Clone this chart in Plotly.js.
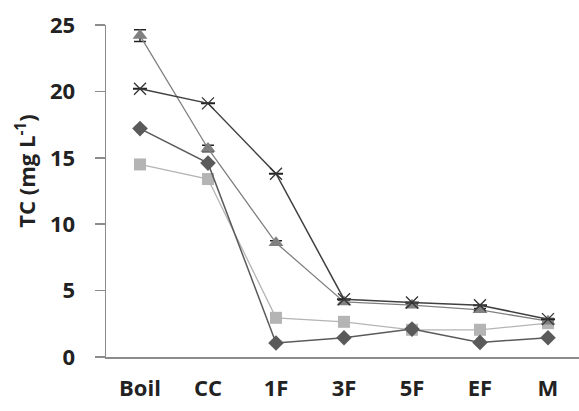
<!DOCTYPE html>
<html><head><meta charset="utf-8">
<script src="https://cdn.plot.ly/plotly-3.0.1.min.js"></script>
<style>body{margin:0;background:#fff}#c{width:579px;height:411px}</style>
</head><body><div id="c"></div>
<script>
const categories = ["Boil","CC","1F","3F","5F","EF","M"];
const diamondSeries = [17.2, 14.6, 1.05, 1.45, 2.1, 1.1, 1.45];
const squareSeries  = [14.5, 13.4, 2.95, 2.65, 2.05, 2.05, 2.55];
const triangleSeries = [24.2, 15.7, 8.6, 4.15, 3.9, 3.55, 2.7];
const triangleErr = [0.45, 0.25, 0.15, 0.15, 0.1, 0.1, 0.1];
const starSeries = [20.2, 19.1, 13.8, 4.35, 4.1, 3.9, 2.85];
const yTicks = [0,5,10,15,20,25];
const yTitle = "TC (mg L<sup>-1</sup>)";

const fam = "'Open Sans', sans-serif";
const tf = {family:fam, size:22, color:"#222", weight:"bold"};
const traces = [
 {x:categories, y:squareSeries, mode:"lines+markers", line:{color:"#b4b4b4",width:1.3},
  marker:{symbol:"square",size:12,color:"#b4b4b4"}},
 {x:categories, y:diamondSeries, mode:"lines+markers", line:{color:"#5a5a5a",width:1.5},
  marker:{symbol:"diamond",size:12,color:"#5a5a5a"}},
 {x:categories, y:triangleSeries, mode:"lines+markers", line:{color:"#808080",width:1.3},
  marker:{symbol:"triangle-up",size:13,color:"#808080"},
  error_y:{type:"data",array:triangleErr,visible:true,color:"#222",thickness:1.5,width:6}},
 {x:categories, y:starSeries, mode:"lines+markers", line:{color:"#404040",width:1.5},
  marker:{symbol:"x-thin-open",size:12,color:"#333",line:{width:1.3,color:"#333"}},
  error_y:{type:"constant",value:0.02,visible:true,color:"#222",thickness:1.5,width:7}}
];
const layout = {
 width:579, height:411, showlegend:false,
 paper_bgcolor:"#fff", plot_bgcolor:"#fff",
 margin:{l:106, r:0, t:25, b:54},
 font:{family:fam, size:22, color:"#222"},
 xaxis:{type:"category", range:[-0.5, 6.456], showgrid:false, zeroline:false,
  showline:true, linecolor:"#8c8c8c", linewidth:1.5, ticks:"",
  tickfont:tf, ticklabelstandoff:11},
 yaxis:{range:[0,25], tickvals:yTicks, showgrid:false, zeroline:false,
  showline:true, linecolor:"#8c8c8c", linewidth:1.5, ticks:"outside", ticklen:10,
  tickcolor:"#8c8c8c", tickwidth:1.5,
  tickfont:tf, ticklabelstandoff:15},
 yaxis2:{overlaying:"y", range:[0,25], tickvals:yTicks, showticklabels:false, showgrid:false,
  zeroline:false, ticks:"inside", ticklen:8, tickcolor:"#8c8c8c", tickwidth:1.5, showline:false},
 annotations:[{text:yTitle, textangle:-90, xref:"paper", yref:"paper",
  x:-0.172, y:0.56, xanchor:"center", yanchor:"middle", showarrow:false,
  font:{family:fam, size:22, color:"#222", weight:"bold"}}]
};
Plotly.newPlot("c", traces, layout, {staticPlot:true});
</script></body></html>
